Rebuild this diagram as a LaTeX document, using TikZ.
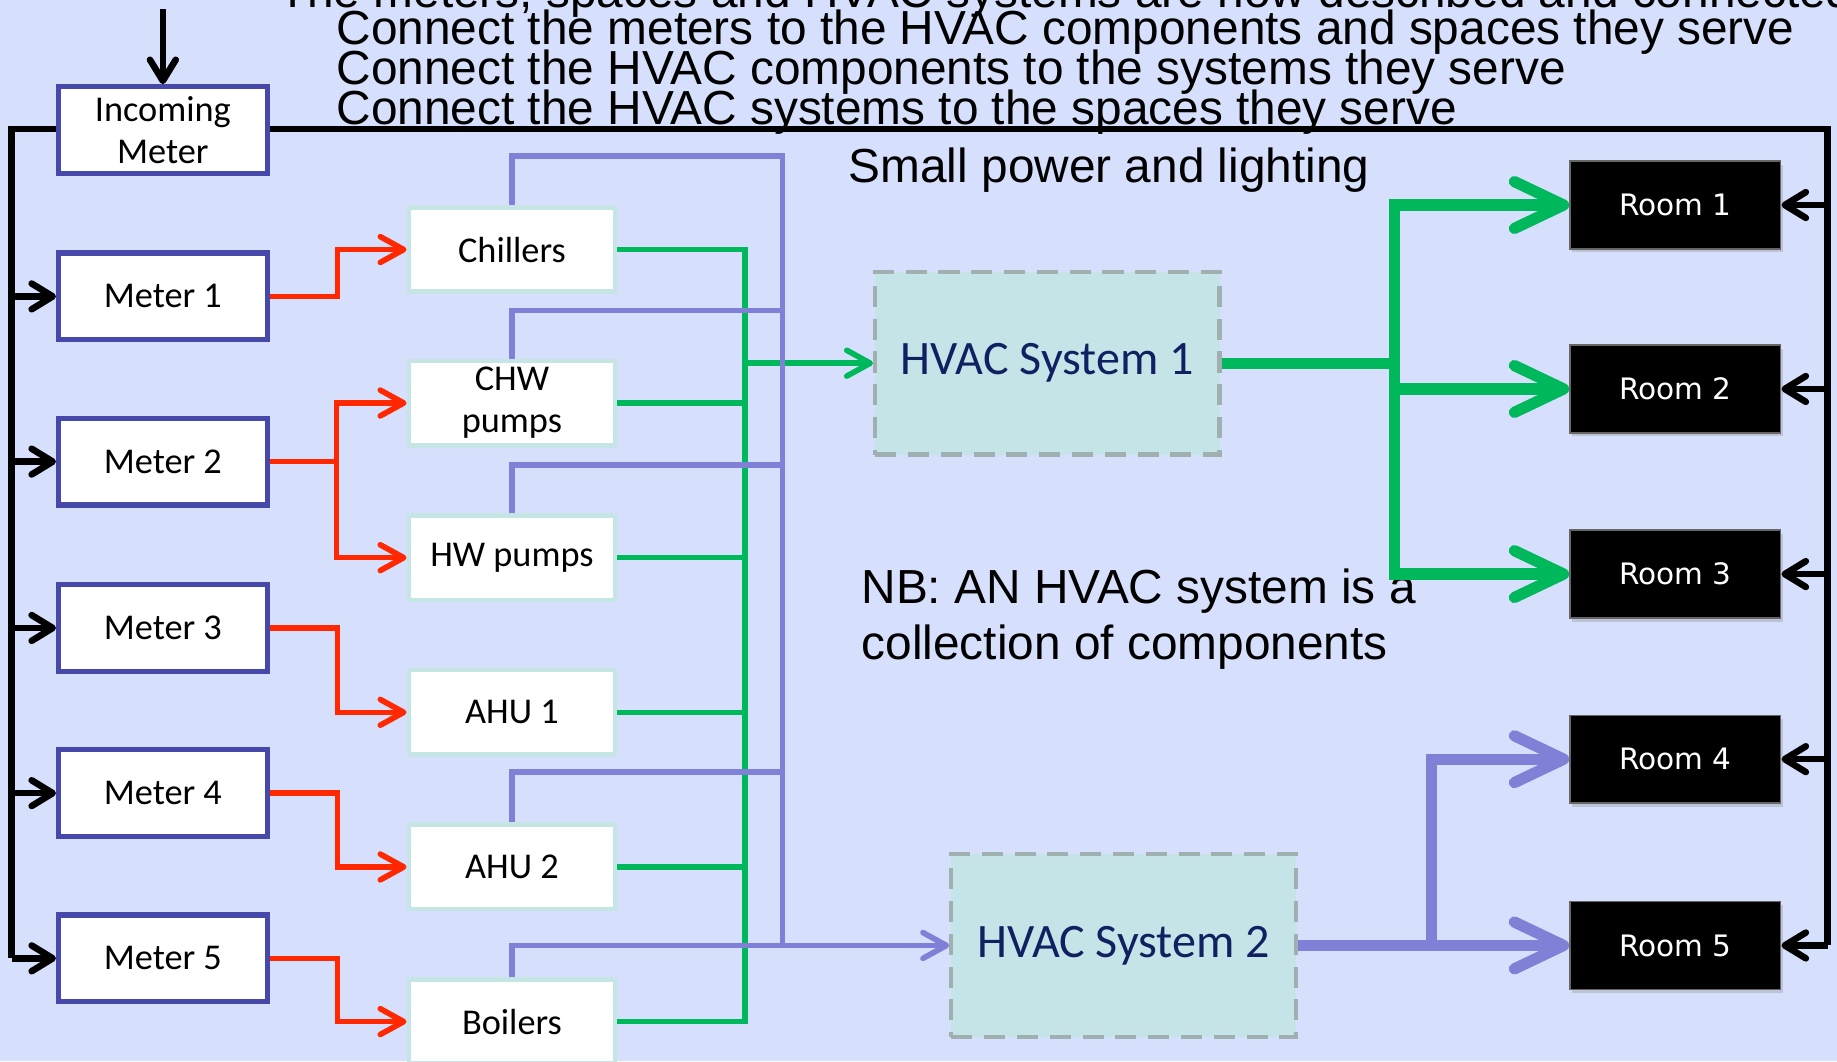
\documentclass[tikz,border=0pt]{standalone}
\usepackage{fontspec}
\setmainfont{Liberation Sans}
\newfontfamily\calibrifont{Carlito}
\newfontfamily\roomfont{DejaVu Sans}
\usepackage{tikz}
\usetikzlibrary{arrows.meta, positioning, calc, shadows}

\definecolor{slidebg}{RGB}{214,224,252}
\definecolor{meteredge}{RGB}{70,72,170}
\definecolor{compedge}{RGB}{198,230,230}
\definecolor{feedred}{RGB}{255,40,0}
\definecolor{hvacgreen}{RGB}{0,184,92}
\definecolor{hvacblue}{RGB}{128,128,214}
\definecolor{sysfill}{RGB}{196,228,232}
\definecolor{sysedge}{RGB}{160,176,176}
\definecolor{systext}{RGB}{16,32,96}
\newcommand\tightlines{\lineskiplimit=-50pt\relax}

\begin{document}
\begin{tikzpicture}[x=0.5pt, y=-0.5pt,
    meterbox/.style={draw=meteredge, line width=2.2pt, fill=white, align=center,
            font=\calibrifont\fontsize{15.5}{18}\selectfont, inner sep=0pt,
            minimum width=89pt, minimum height=37pt},
    compbox/.style={draw=compedge, line width=2pt, fill=white, align=center,
            font=\calibrifont\fontsize{15.5}{18}\selectfont, inner sep=0pt,
            minimum width=88pt, minimum height=36pt},
    sysbox/.style={draw=sysedge, line width=1.8pt, dash pattern=on 9pt off 5pt,
            fill=sysfill, text=systext, font=\calibrifont\fontsize{20.5}{24}\selectfont,
            minimum width=147pt, minimum height=78pt},
    roombox/.style={fill=black, draw=black!60, line width=0.6pt, text=white,
            font=\roomfont\fontsize{12.6}{15}\selectfont,
            minimum width=90pt, minimum height=37.5pt,
            drop shadow={shadow xshift=1pt, shadow yshift=-1.5pt, opacity=0.3}},
    slidetext/.style={inner sep=0pt,
            font=\fontsize{20.4}{17}\selectfont\tightlines},
    blackline/.style={draw=black, line width=2.8pt},
    blackarrow/.style={blackline, -{Straight Barb[length=9pt, width=11pt, round]}},
    redarrow/.style={draw=feedred, line width=2.4pt,
            -{Straight Barb[length=10pt, width=11pt, round]}},
    greenline/.style={draw=hvacgreen, line width=2.4pt},
    greenarrow/.style={greenline, -{Straight Barb[length=10pt, width=11pt, round]}},
    blueline/.style={draw=hvacblue, line width=2.4pt},
    bluearrow/.style={blueline, -{Straight Barb[length=10pt, width=11pt, round]}},
    greenfat/.style={draw=hvacgreen, line width=4.8pt,
            -{Straight Barb[length=21pt, width=20pt, round]}},
    bluefat/.style={draw=hvacblue, line width=4.8pt,
            -{Straight Barb[length=21pt, width=20pt, round]}}]

  \useasboundingbox (0,0) rectangle (1568,906);
  \clip (0,0) rectangle (1568,906);
  \fill[slidebg] (0,0) rectangle (1568,906);

  \node[slidetext, anchor=base west] (intro) at (237,6)
      {The meters, spaces and HVAC systems are now described and connected};
  \node[slidetext, anchor=north west, align=left] (steps) at (287,8)
      {Connect the meters to the HVAC components and spaces they serve\\
       Connect the HVAC components to the systems they serve\\
       Connect the HVAC systems to the spaces they serve};
  \node[slidetext, anchor=base west] (spl) at (724,156) {Small power and lighting};
  \node[slidetext, anchor=north west, align=left,
        font=\fontsize{20.4}{24}\selectfont] (nb) at (735,485)
      {NB: AN HVAC system is a\\collection of components};

  % meters
  \node[meterbox] (inc) at (139,111) {Incoming\\Meter};
  \node[meterbox] (m1) at (139,253) {Meter 1};
  \node[meterbox] (m2) at (139,394) {Meter 2};
  \node[meterbox] (m3) at (139,536) {Meter 3};
  \node[meterbox] (m4) at (139,677) {Meter 4};
  \node[meterbox] (m5) at (139,818) {Meter 5};

  % components
  \node[compbox] (chill) at (437,213) {Chillers};
  \node[compbox] (chw) at (437,344) {CHW\\pumps};
  \node[compbox] (hw) at (437,476) {HW pumps};
  \node[compbox] (ahu1) at (437,608) {AHU 1};
  \node[compbox] (ahu2) at (437,740) {AHU 2};
  \node[compbox] (boil) at (437,872) {Boilers};

  \node[sysbox] (sys1) at (894,310) {HVAC System 1};
  \node[sysbox] (sys2) at (959,807) {HVAC System 2};

  % rooms
  \node[roombox] (r1) at (1430,175) {Room 1};
  \node[roombox] (r2) at (1430,332) {Room 2};
  \node[roombox] (r3) at (1430,490) {Room 3};
  \node[roombox] (r4) at (1430,648) {Room 4};
  \node[roombox] (r5) at (1430,807) {Room 5};

  \coordinate (feedtop) at (139,8);
  \coordinate (busl) at (10,110);
  \coordinate (busr) at (1560,110);
  \coordinate (gx) at (636,0);
  \coordinate (bchill) at (668,133);
  \coordinate (bchw) at (668,265);
  \coordinate (bhw) at (668,397);
  \coordinate (bahu) at (668,659);
  \coordinate (gsplit) at (1190,310);
  \coordinate (bsplit) at (1222,807);

  % supply bus
  \draw[blackarrow] (feedtop) -- (inc.north);
  \draw[blackline] (inc.west |- busl) -- (busl) -- (busl |- m5.west);
  \draw[blackline] (inc.east |- busl) -- (busr) -- (busr |- r5.east);
  \draw[blackarrow] (busl |- m1.west) -- (m1.west);
  \draw[blackarrow] (busl |- m2.west) -- (m2.west);
  \draw[blackarrow] (busl |- m3.west) -- (m3.west);
  \draw[blackarrow] (busl |- m4.west) -- (m4.west);
  \draw[blackarrow] (busl |- m5.west) -- (m5.west);
  \draw[blackarrow] (busr |- r1.east) -- (r1.east);
  \draw[blackarrow] (busr |- r2.east) -- (r2.east);
  \draw[blackarrow] (busr |- r3.east) -- (r3.east);
  \draw[blackarrow] (busr |- r4.east) -- (r4.east);
  \draw[blackarrow] (busr |- r5.east) -- (r5.east);

  % meters to components
  \draw[redarrow] (m1.east) -- ++(58,0) |- (chill.west);
  \draw[redarrow] (m2.east) -- ++(57,0) |- (chw.west);
  \draw[redarrow] (m2.east) -- ++(57,0) |- (hw.west);
  \draw[redarrow] (m3.east) -- ++(58,0) |- (ahu1.west);
  \draw[redarrow] (m4.east) -- ++(58,0) |- (ahu2.west);
  \draw[redarrow] (m5.east) -- ++(58,0) |- (boil.west);

  % components to systems
  \draw[greenline] (chill.east) -| (boil.east -| gx) -- (boil.east);
  \draw[greenline] (chw.east) -- (chw.east -| gx);
  \draw[greenline] (hw.east) -- (hw.east -| gx);
  \draw[greenline] (ahu1.east) -- (ahu1.east -| gx);
  \draw[greenline] (ahu2.east) -- (ahu2.east -| gx);
  \draw[greenarrow] (gx |- sys1.west) -- (sys1.west);

  \draw[bluearrow] (chill.north) |- (bchill) -- (bchill |- sys2.west) -- (sys2.west);
  \draw[blueline] (chw.north) |- (bchw);
  \draw[blueline] (hw.north) |- (bhw);
  \draw[blueline] (ahu2.north) |- (bahu);
  \draw[blueline] (boil.north) |- (bchill |- sys2.west);

  % systems to rooms
  \draw[greenfat] (sys1.east) -- (gsplit) |- (r1.west);
  \draw[greenfat] (gsplit) |- (r2.west);
  \draw[greenfat] (gsplit) |- (r3.west);
  \draw[bluefat] (sys2.east) -- (bsplit) |- (r4.west);
  \draw[bluefat] (bsplit) -- (r5.west);
\end{tikzpicture}
\end{document}
